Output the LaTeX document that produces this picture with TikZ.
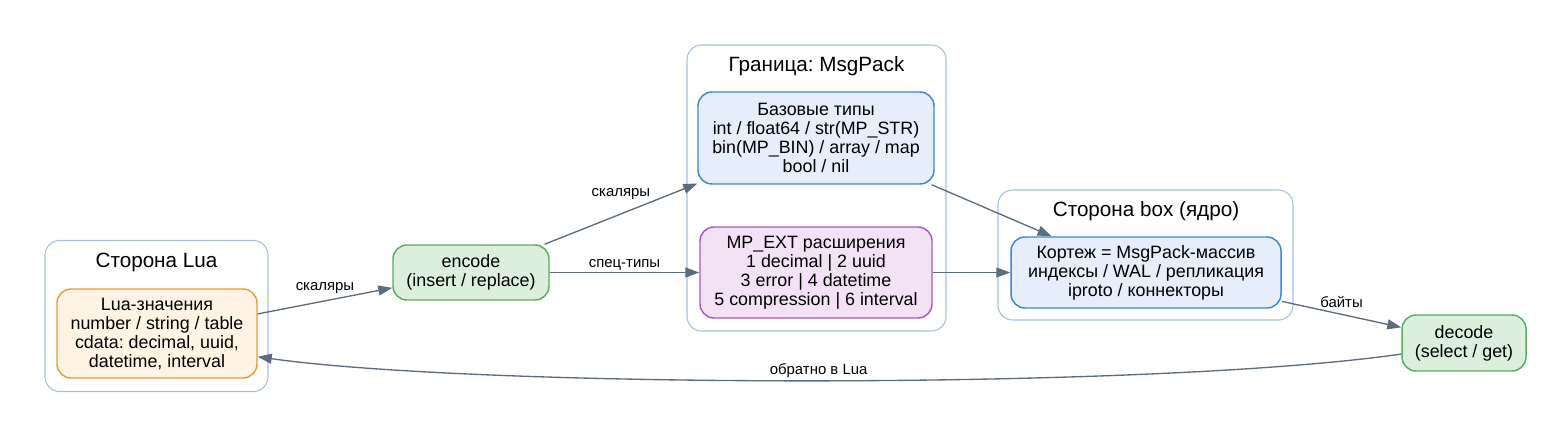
\documentclass[tikz,border=0pt]{standalone}
\usepackage{fontspec}
\setmainfont{Liberation Sans}
\usepackage{tikz}
\usetikzlibrary{
  arrows.meta,
  positioning,
  calc
}
\frenchspacing
\definecolor{mpLua}{HTML}{E39E3E}
\definecolor{mpLuaFill}{HTML}{FFF3E3}
\definecolor{mpCodec}{HTML}{5BAD63}
\definecolor{mpCodecFill}{HTML}{DCEEDC}
\definecolor{mpCore}{HTML}{3C87D9}
\definecolor{mpCoreFill}{HTML}{E6EEFB}
\definecolor{mpExt}{HTML}{A659C6}
\definecolor{mpExtFill}{HTML}{F3E2F6}
\definecolor{mpFrame}{HTML}{A6C0E0}
\definecolor{mpEdge}{HTML}{5C6C7D}
\tikzset{
  mpnode/.style={
    draw, rounded corners=10.5pt, align=center, inner sep=0pt, line width=1.1pt,
    font=\fontsize{13.4}{14.25}\selectfont
  },
  luaval/.style={mpnode, fill=mpLuaFill, draw=mpLua},
  codec/.style={mpnode, fill=mpCodecFill, draw=mpCodec},
  core/.style={mpnode, fill=mpCoreFill, draw=mpCore},
  extbox/.style={mpnode, fill=mpExtFill, draw=mpExt},
  cluster/.style={draw=mpFrame, rounded corners=11pt, line width=0.8pt, inner sep=0pt},
  clustertitle/.style={font=\fontsize{15.5}{18}\selectfont, inner sep=0pt},
  flow/.style={-{Triangle[length=10.5pt, width=7.5pt]}, line width=1pt, mpEdge},
  tag/.style={font=\fontsize{11.2}{13}\selectfont, inner sep=1pt, text=black}
}
\begin{document}
\begin{tikzpicture}[x=0.75pt, y=-0.75pt]
  \useasboundingbox (0,0) rectangle (1558,437);
  % frames
  \node[cluster, minimum width=167.25pt, minimum height=113.25pt] (luaside) at (156.5,316) {};
  \node[cluster, minimum width=194.25pt, minimum height=214.5pt] (msgpack) at (816.5,188) {};
  \node[cluster, minimum width=221.25pt, minimum height=97.5pt] (boxside) at (1145.5,255) {};
  \node[clustertitle] (luattl) at (156.5,262) {Сторона Lua};
  \node[clustertitle] (msgttl) at (816.5,66) {Граница: MsgPack};
  \node[clustertitle] (boxttl) at (1146,211) {Сторона box (ядро)};
  % nodes
  \node[luaval, minimum width=150pt, minimum height=66.75pt] (lua) at (157,333.5)
    {Lua-значения\\number / string / table\\cdata: decimal, uuid,\\datetime, interval};
  \node[codec, minimum width=117pt, minimum height=41.25pt] (encode) at (471,272.5)
    {encode\\(insert / replace)};
  \node[core, minimum width=177pt, minimum height=69pt] (base) at (816,138)
    {Базовые типы\\int / float64 / str(MP\_STR)\\bin(MP\_BIN) / array / map\\bool / nil};
  \node[extbox, minimum width=174pt, minimum height=68.25pt, below=31.15pt of base] (mpext)
    {MP\_EXT расширения\\1 decimal | 2 uuid\\3 error | 4 datetime\\5 compression | 6 interval};
  \node[core, minimum width=202.5pt, minimum height=53.25pt] (tuple) at (1146,272.5)
    {Кортеж = MsgPack-массив\\индексы / WAL / репликация\\iproto / коннекторы};
  \node[codec, minimum width=93pt, minimum height=42pt] (decode) at (1464,343)
    {decode\\(select / get)};
  % edges
  \draw[flow] (lua.11) -- node[tag, above=4pt]{скаляры} (encode.191);
  \draw[flow] (encode.21) -- node[tag, above=9.5pt]{скаляры} (base.201);
  \draw[flow] (encode.east) -- node[tag, above=0pt]{спец-типы} (mpext.west);
  \draw[flow] (base.-22) -- (tuple.159);
  \draw[flow] (mpext.east) -- (tuple.west);
  \draw[flow] (tuple.-12.5) -- node[tag, above=3.5pt]{байты} (decode.166);
  \draw[flow] (decode.190) .. controls (1150,390) and (480,388) .. node[tag, above=0.5pt]{обратно в Lua} (lua.-13.5);
\end{tikzpicture}
\end{document}
